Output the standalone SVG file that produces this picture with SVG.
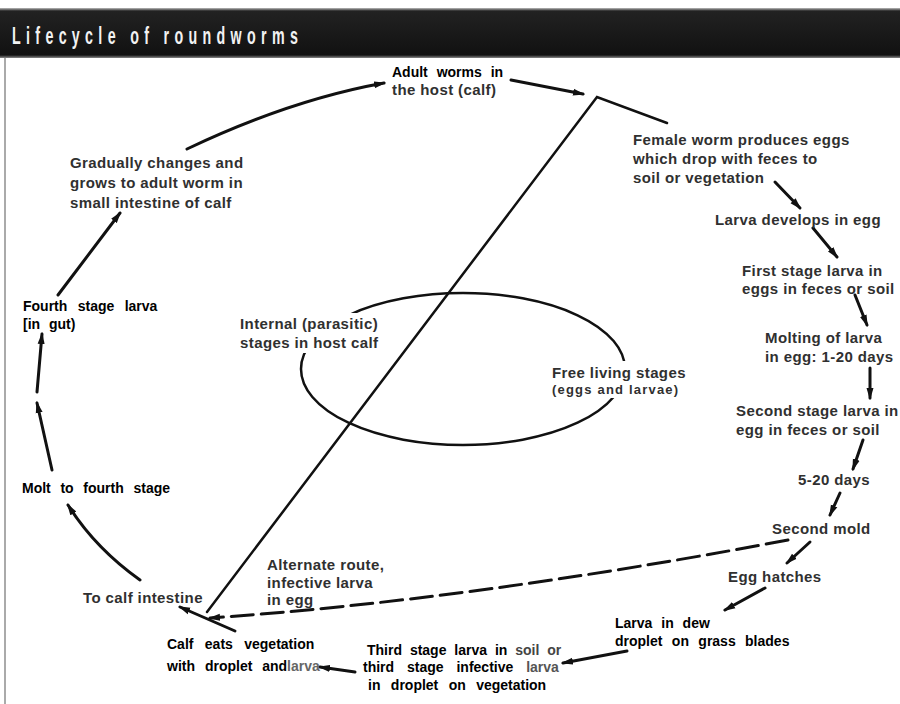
<svg xmlns="http://www.w3.org/2000/svg" width="900" height="704" viewBox="0 0 900 704">
<defs>
<linearGradient id="tb" x1="0" y1="0" x2="0" y2="1">
<stop offset="0" stop-color="#bbbbbb"/>
<stop offset="0.06" stop-color="#222"/>
<stop offset="0.94" stop-color="#111"/>
<stop offset="1" stop-color="#888"/>
</linearGradient>
<marker id="ah" viewBox="0 0 12 8" refX="10" refY="4" markerWidth="12" markerHeight="8" markerUnits="userSpaceOnUse" orient="auto">
<path d="M0,0.5 L12,4 L0,7.5 z" fill="#111"/>
</marker>
<style>
.k{font-family:"Liberation Sans",Arial,sans-serif;font-weight:bold;font-size:14px;fill:#000;word-spacing:5px}
.g{font-family:"Liberation Sans",Arial,sans-serif;font-weight:bold;font-size:15px;fill:#303030;letter-spacing:0.4px}
.s{font-family:"Liberation Sans",Arial,sans-serif;font-weight:bold;font-size:13px;fill:#303030;letter-spacing:1.2px}
.a{fill:none;stroke:#111;stroke-width:3;stroke-linecap:round;marker-end:url(#ah)}
.l{fill:none;stroke:#111;stroke-width:2.5;stroke-linecap:round;stroke-linejoin:miter}
</style>
</defs>
<rect width="900" height="704" fill="#fff"/>
<g id="title">
<rect x="0" y="8" width="900" height="50" fill="url(#tb)"/>
<text transform="translate(12,44) scale(0.62,1)" x="0" y="0" textLength="461" lengthAdjust="spacing" style="font-family:'Liberation Sans',Arial,sans-serif;font-weight:bold;font-size:23px;fill:#f2f2f2">Lifecycle of roundworms</text>
</g>
<line x1="5" y1="58" x2="5" y2="704" stroke="#aaa" stroke-width="2"/>

<g id="ellipse">
<ellipse cx="463" cy="369" rx="162" ry="76" fill="none" stroke="#111" stroke-width="2.5"/>
</g>

<g id="connectors">
<path class="l" d="M667,123 L597,97 L207,612"/>
<path class="a" d="M187,149 Q290,100 384,83"/>
<path class="a" d="M511,80 L583,94"/>
<path class="a" d="M775,182 L800,208"/>
<path class="a" d="M813,228 L837,257"/>
<path class="a" d="M855,295 L867,325"/>
<path class="a" d="M870,368 L870,398"/>
<path class="a" d="M863,440 L853,469"/>
<path class="a" d="M840,493 L830,515"/>
<path class="a" d="M810,542 L787,563"/>
<path class="a" d="M765,588 L725,610"/>
<path class="a" d="M627,651 L563,663"/>
<path class="a" d="M355,672 L320,667"/>
<path class="a" d="M235,631 L180,607"/>
<path class="a" d="M788,540 Q470,600 210,618" stroke-dasharray="22,8"/>
<path class="a" d="M140,580 Q95,548 68,505"/>
<path class="a" d="M52,470 L37,403"/>
<path class="a" d="M37,392 L42,334"/>
<path class="a" d="M58,295 L120,213"/>
</g>

<g id="adult">
<text class="k" x="392" y="77">Adult worms in</text>
<text class="g" x="392" y="95">the host (calf)</text>
</g>
<g id="female">
<text class="g" x="633" y="145">Female worm produces eggs</text>
<text class="g" x="633" y="164">which drop with feces to</text>
<text class="g" x="633" y="183">soil or vegetation</text>
</g>
<g id="develops"><text class="g" x="715" y="225">Larva develops in egg</text></g>
<g id="first">
<text class="g" x="742" y="276">First stage larva in</text>
<text class="g" x="742" y="294">eggs in feces or soil</text>
</g>
<g id="molting">
<text class="g" x="765" y="343">Molting of larva</text>
<text class="g" x="765" y="362">in egg: 1-20 days</text>
</g>
<g id="second">
<text class="g" x="736" y="416">Second stage larva in</text>
<text class="g" x="736" y="435">egg in feces or soil</text>
</g>
<g id="days"><text class="g" x="798" y="485">5-20 days</text></g>
<g id="mold"><text class="g" x="772" y="534">Second mold</text></g>
<g id="hatches"><text class="g" x="728" y="582">Egg hatches</text></g>
<g id="dew">
<text class="k" x="615" y="628">Larva in dew</text>
<text class="k" x="615" y="646" style="word-spacing:5.5px">droplet on grass blades</text>
</g>
<g id="third">
<text class="k" x="367" y="655" style="word-spacing:4px">Third stage larva in <tspan fill="#444">soil or</tspan></text>
<text class="k" x="363" y="672" style="word-spacing:9px">third stage infective <tspan fill="#555">larva</tspan></text>
<text class="k" x="368" y="690" style="word-spacing:6.5px">in droplet on vegetation</text>
</g>
<g id="calfeats">
<text class="k" x="167" y="649" style="word-spacing:7.5px">Calf eats vegetation</text>
<text class="k" x="167" y="671" style="word-spacing:6px">with droplet and<tspan fill="#666">larva</tspan></text>
</g>
<g id="alternate">
<text class="g" x="267" y="570">Alternate route,</text>
<text class="g" x="267" y="588">infective larva</text>
<text class="g" x="267" y="605">in egg</text>
</g>
<g id="tocalf"><text class="g" x="83" y="603">To calf intestine</text></g>
<g id="molt"><text class="k" x="22" y="493" style="word-spacing:5.8px">Molt to fourth stage</text></g>
<g id="fourth">
<text class="k" x="23" y="311" style="word-spacing:6.5px">Fourth stage larva</text>
<text class="k" x="23" y="329">[in gut)</text>
</g>
<g id="gradually">
<text class="g" x="70" y="168">Gradually changes and</text>
<text class="g" x="70" y="188">grows to adult worm in</text>
<text class="g" x="70" y="208">small intestine of calf</text>
</g>
<g id="internal">
<rect x="236" y="313" width="148" height="40" fill="#fff"/>
<text class="g" x="240" y="329">Internal (parasitic)</text>
<text class="g" x="240" y="348">stages in host calf</text>
</g>
<g id="free">
<rect x="548" y="361" width="142" height="37" fill="#fff"/>
<text class="g" x="552" y="378">Free living stages</text>
<text class="s" x="552" y="394">(eggs and larvae)</text>
</g>
</svg>
